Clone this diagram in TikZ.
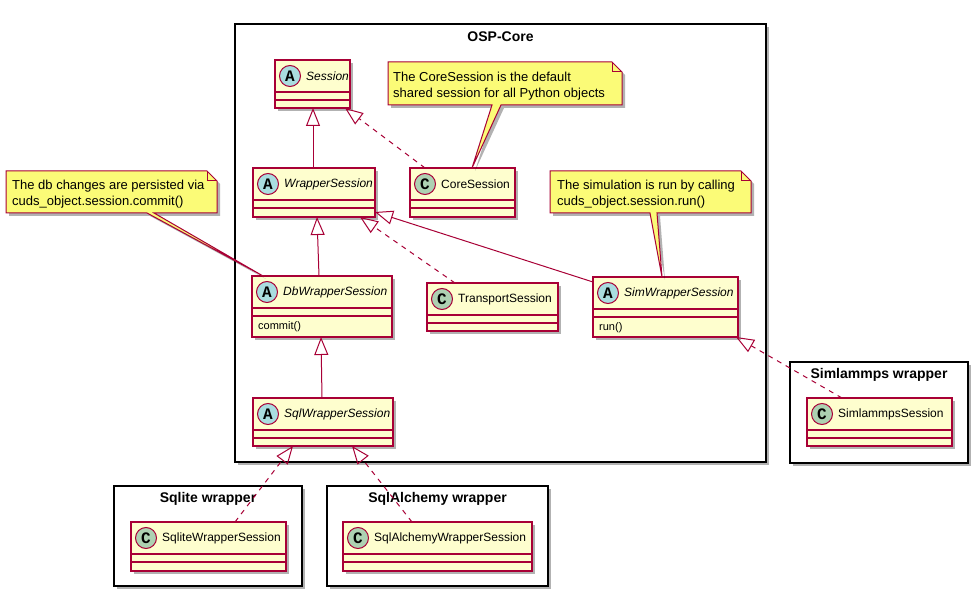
\documentclass[tikz,border=0pt]{standalone}
\usepackage{fontspec}
\setmainfont{Liberation Sans}
\newfontfamily\circfont{Liberation Mono}
\usetikzlibrary{arrows.meta,shadows}
\definecolor{umlred}{HTML}{A80036}
\definecolor{clsfill}{HTML}{FEFECE}
\definecolor{notefill}{HTML}{FBFB77}
\definecolor{circAfill}{HTML}{A9DCDF}
\definecolor{circCfill}{HTML}{ADD1B2}
\tikzset{
  shadowed/.style={drop shadow={shadow xshift=3pt, shadow yshift=-3pt, opacity=0.3, fill=black}},
  cls/.style={draw=umlred, fill=clsfill, line width=1.5pt, inner sep=0pt, outer sep=0pt, shadowed},
  clsline/.style={draw=umlred, line width=1.5pt},
  circ/.style={circle, draw=umlred, line width=1pt, minimum size=21pt, inner sep=0pt,
    font=\circfont\bfseries\fontsize{16}{16}\selectfont},
  clsname/.style={anchor=west, inner sep=0pt, font=\fontsize{12}{14}\selectfont},
  method/.style={anchor=west, inner sep=0pt, font=\fontsize{11}{13}\selectfont},
  pkg/.style={draw=black, fill=white, line width=1.5pt, inner sep=0pt, outer sep=0pt, shadowed},
  pkgtitle/.style={inner sep=0pt, font=\bfseries\fontsize{14}{16}\selectfont},
  notebox/.style={draw=umlred, fill=notefill, line width=1pt, line join=miter, shadowed},
  notefold/.style={draw=umlred, line width=1pt},
  notetext/.style={anchor=north west, inner sep=0pt, align=left, font=\fontsize{13}{15.5}\selectfont},
  umlline/.style={draw=umlred, line width=1pt},
  gen/.style={umlline, -{Triangle[open, length=18pt, width=14pt]}},
  real/.style={gen, dash pattern=on 5pt off 5pt},
}
% name, x, y, width, height, circle fill, letter, title
\newcommand\umlclass[8]{%
  \node[cls, minimum width=#4pt, minimum height=#5pt, anchor=north west] (#1) at (#2,#3) {};
  \draw[clsline] ([yshift=-32pt]#1.north west) -- ([yshift=-32pt]#1.north east);
  \draw[clsline] ([yshift=-40pt]#1.north west) -- ([yshift=-40pt]#1.north east);
  \node[circ, fill=#6] (#1-c) at ([xshift=15pt,yshift=-16pt]#1.north west) {#7};
  \node[clsname] (#1-t) at ([xshift=5pt]#1-c.east) {#8};
}
\begin{document}
\begin{tikzpicture}[x=1pt,y=-1pt]
\useasboundingbox (0,0) rectangle (978,596);

% packages
\node[pkg, minimum width=531pt, minimum height=438pt, anchor=north west] (osp) at (235,24) {};
\node[pkgtitle] (osp-t) at ([yshift=-13pt]osp.north) {OSP-Core};
\node[pkg, minimum width=178pt, minimum height=101pt, anchor=north west] (simpkg) at (790,362) {};
\node[pkgtitle] (simpkg-t) at ([yshift=-13pt]simpkg.north) {Simlammps wrapper};
\node[pkg, minimum width=188pt, minimum height=100pt, anchor=north west] (sqlitepkg) at (114,486) {};
\node[pkgtitle] (sqlitepkg-t) at ([yshift=-13pt]sqlitepkg.north) {Sqlite wrapper};
\node[pkg, minimum width=221pt, minimum height=100pt, anchor=north west] (alchpkg) at (327,486) {};
\node[pkgtitle] (alchpkg-t) at ([yshift=-13pt]alchpkg.north) {SqlAlchemy wrapper};

% classes
\umlclass{session}{275}{60}{75}{48}{circAfill}{A}{\itshape Session}
\umlclass{wrapper}{253}{168}{122}{49}{circAfill}{A}{\itshape WrapperSession}
\umlclass{core}{410}{168}{105}{49}{circCfill}{C}{CoreSession}
\umlclass{db}{252}{276}{140}{61}{circAfill}{A}{\itshape DbWrapperSession}
\node[method] (db-m) at ([xshift=6pt,yshift=-51pt]db.north west) {commit()};
\umlclass{transport}{427}{283}{131}{48}{circCfill}{C}{TransportSession}
\umlclass{sim}{593}{277}{145}{60}{circAfill}{A}{\itshape SimWrapperSession}
\node[method] (sim-m) at ([xshift=6pt,yshift=-51pt]sim.north west) {run()};
\umlclass{sql}{253}{398}{140}{48}{circAfill}{A}{\itshape SqlWrapperSession}
\umlclass{simlammps}{807}{398}{145}{48}{circCfill}{C}{SimlammpsSession}
\umlclass{sqlite}{131}{522}{155}{49}{circCfill}{C}{SqliteWrapperSession}
\umlclass{sqlalchemy}{343}{522}{189}{49}{circCfill}{C}{SqlAlchemyWrapperSession}

% notes
\path[notebox] (388,62) -- (612,62) -- (622,72) -- (622,105) -- (501,105)
  -- ([xshift=62pt]core.north west) -- (492,105) -- (388,105) -- cycle;
\draw[notefold] (612,62) -- (612,72) -- (622,72);
\node[notetext] (corenote) at (393,72) {The CoreSession is the default\\shared session for all Python objects};

\path[notebox] (550,171) -- (741,171) -- (751,181) -- (751,213) -- (657,213)
  -- ([xshift=69pt]sim.north west) -- (650,213) -- (550,213) -- cycle;
\draw[notefold] (741,171) -- (741,181) -- (751,181);
\node[notetext] (simnote) at (557,180) {The simulation is run by calling\\cuds\_object.session.run()};

\path[notebox] (6,171) -- (207,171) -- (217,181) -- (217,213) -- (154,213)
  -- ([xshift=11pt]db.north west) -- (147,213) -- (6,213) -- cycle;
\draw[notefold] (207,171) -- (207,181) -- (217,181);
\node[notetext] (dbnote) at (12,180) {The db changes are persisted via\\cuds\_object.session.commit()};

% connectors
\draw[gen] ([xshift=60pt]wrapper.north west) -- ([xshift=38pt]session.south west);
\draw[real] ([xshift=15pt]core.north west) -- ([xshift=-5pt]session.south east);
\draw[gen] ([xshift=67pt]db.north west) -- ([xshift=64pt]wrapper.south west);
\draw[real] ([xshift=28pt]transport.north west) -- ([xshift=107pt]wrapper.south west);
\draw[gen] ([yshift=-5pt]sim.north west) -- ([yshift=5pt]wrapper.south east);
\draw[gen] ([xshift=69pt]sql.north west) -- ([xshift=69pt]db.south west);
\draw[real] ([xshift=104pt]sqlite.north west) -- ([xshift=40pt]sql.south west);
\draw[real] ([xshift=69pt]sqlalchemy.north west) -- ([xshift=99pt]sql.south west);
\draw[real] ([xshift=35pt]simlammps.north west) -- ([xshift=-2pt]sim.south east);
\end{tikzpicture}
\end{document}
